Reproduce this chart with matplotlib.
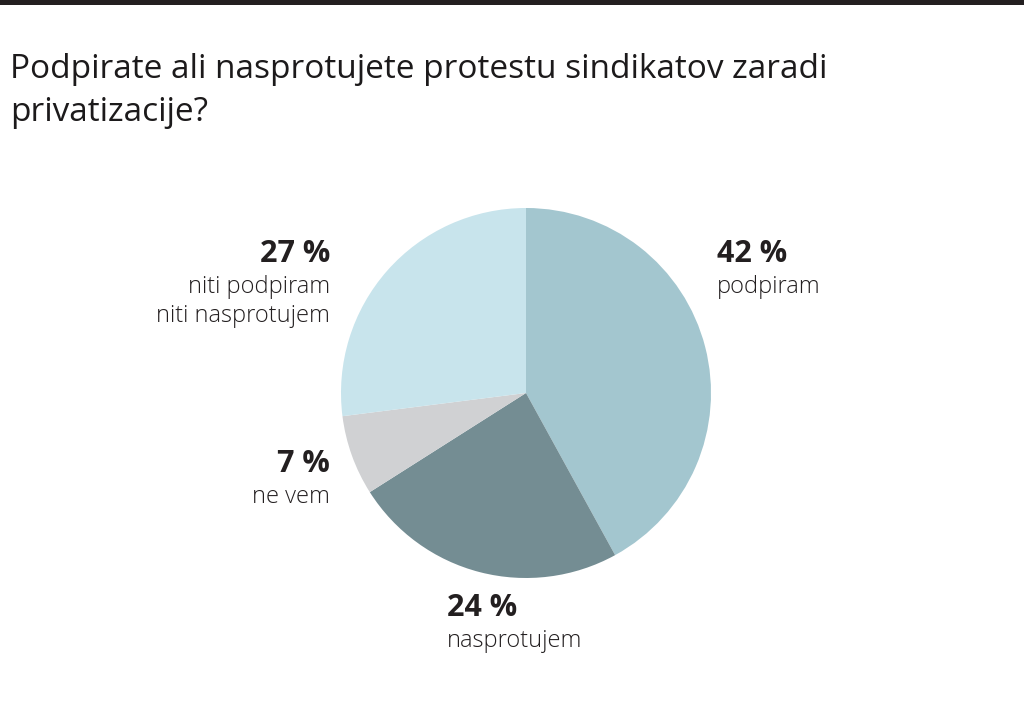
import matplotlib
matplotlib.use("Agg")
import matplotlib.pyplot as plt
from matplotlib.patches import Rectangle

title = "Podpirate ali nasprotujete protestu sindikatov zaradi\nprivatizacije?"
categories = ["podpiram", "nasprotujem", "ne vem", "niti podpiram\nniti nasprotujem"]
values = [42, 24, 7, 27]
colors = ["#a3c6cf", "#748d93", "#d0d1d3", "#c8e4ec"]

W, H = 1024, 716
fig = plt.figure(figsize=(W / 100, H / 100), dpi=100)
fig.patch.set_facecolor("white")

def fx(x):
    return x / W

def fy(y):
    return 1 - y / H

# top dark band
fig.patches.append(Rectangle((0, fy(5)), 1, 5 / H, transform=fig.transFigure,
                             facecolor="#231f20", edgecolor="none"))

family = ["Open Sans", "DejaVu Sans"]
for i, line in enumerate(title.split("\n")):
    fig.text(fx(10), fy(78 + 43 * i), line, ha="left", va="baseline",
             fontsize=24, fontweight="medium", color="#1c1a1b", family=family)

cx, cy, r = 526, 393, 185
ax = fig.add_axes([fx(cx - r), fy(cy + r), 2 * r / W, 2 * r / H])
ax.pie(values, colors=colors, startangle=90, counterclock=False,
       wedgeprops=dict(linewidth=0), radius=1)
ax.set_xlim(-1, 1)
ax.set_ylim(-1, 1)
ax.set_aspect("auto")
ax.axis("off")

# label positions: (x, baseline of value, ha)
label_pos = [(717, 262, "left"), (447, 616, "left"), (330, 472, "right"), (330, 262, "right")]
for v, cat, (x, y, ha) in zip(values, categories, label_pos):
    fig.text(fx(x), fy(y), f"{v} %", ha=ha, va="baseline", fontsize=22,
             fontweight="bold", color="#231f20", family=family)
    for j, line in enumerate(cat.split("\n")):
        fig.text(fx(x), fy(y + 31 + 29 * j), line, ha=ha, va="baseline",
                 fontsize=17, fontweight="light", color="#231f20", family=family)

fig.savefig("out.png", dpi=100)
